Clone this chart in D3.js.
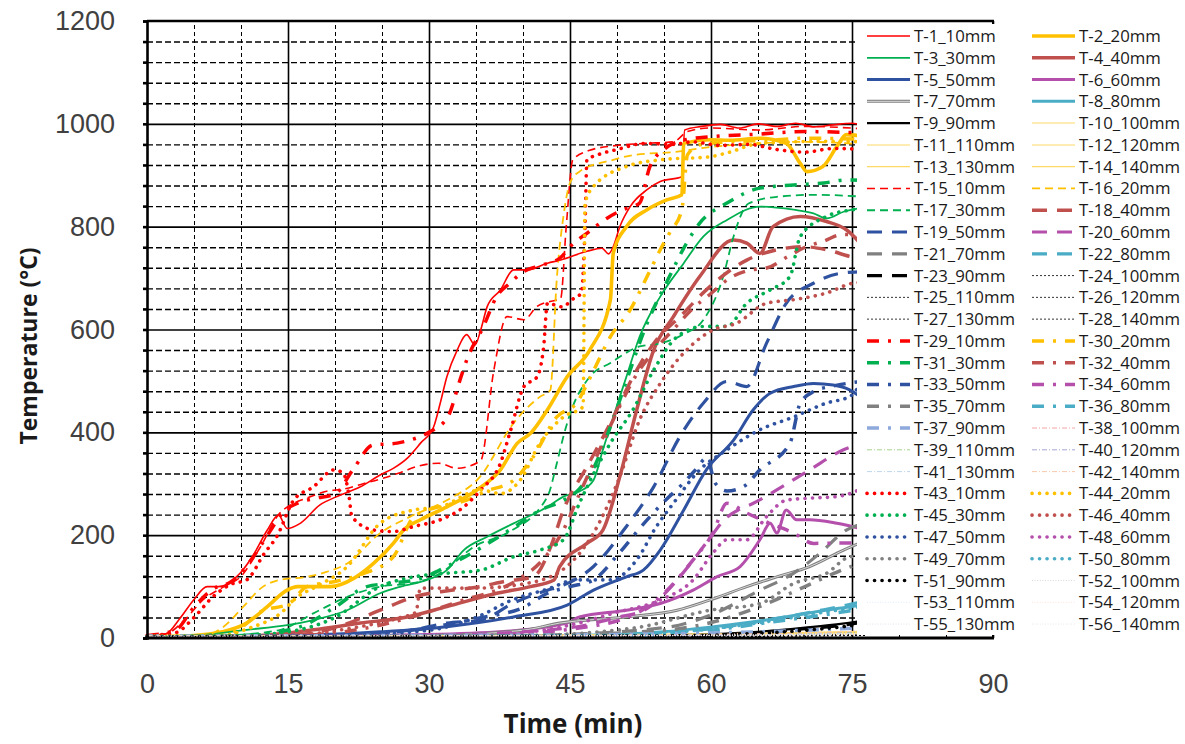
<!DOCTYPE html>
<html lang="en">
  <head>
    <meta charset="UTF-8" />
    <script src="https://d3js.org/d3.v7.min.js"></script>
    <title>Temperature - time</title>
    <style>
      body { margin: 0; background: #fff; font-family: "Open Sans", sans-serif; }
      .tick-label text { font-size: 27px; fill: #404040; }
      .title { font-weight: bold; fill: #1a1a1a; }
      .legend text { font-size: 16.8px; fill: #1a1a1a; }
    </style>
  </head>
  <body>
    <svg width="1185" height="744"></svg>
    <script>
      // ---- data: [minute, °C] ----
      const T1 = [[0,5],[2,8],[3.5,38],[5,75],[6.4,100],[7.6,100],[9.9,126],[11.3,161],[12.8,210],[14,239],[14.9,213],[16.3,223],[18.4,259],[20.2,275],[22.7,294],[24.8,317],[26.2,330],[27.7,350],[29.1,379],[30.5,411],[31.2,457],[31.9,508],[33,560],[34,590],[34.9,570],[35.5,599],[36.2,645],[37.6,677],[39,716],[40.4,716],[42.6,729],[44,735],[46.8,752],[48.4,758],[49.1,747],[49.6,761],[50.3,800],[51.4,839],[53.2,872],[54.6,888],[56.9,897],[57.2,988],[59,995],[61,999],[63,992],[65,1000],[67,995],[69,1001],[71,994],[73,998],[75,1001],[76.5,995]];
      const T2 = [[0,3],[5,5],[8,12],[10.6,29],[12.8,61],[14.9,93],[16,100],[19.5,100],[22,116],[24.1,145],[26.2,184],[27.3,210],[29.1,230],[31.9,255],[35.1,288],[37.6,327],[39.4,379],[40.8,398],[42.6,444],[44.7,508],[47.1,560],[49.3,658],[49.6,748],[51,800],[53.2,833],[55.3,852],[56.9,862],[57.1,962],[59.9,969],[62,968],[65.2,972],[68,962],[69.5,923],[70.2,907],[71.9,917],[73.4,956],[74.4,979],[76.5,975]];
      const T3 = [[0,3],[5,5],[10.6,16],[14.9,25],[17.7,35],[21.3,54],[24.8,87],[27,100],[29.8,113],[31.9,132],[33.7,171],[36.2,197],[39,223],[42.6,255],[44.3,275],[46,285],[47.5,307],[48.5,366],[49.6,430],[51,508],[52.4,586],[54.6,664],[57.1,729],[59.2,781],[61.7,813],[65.2,839],[68.8,833],[70.9,826],[72.3,816],[74.1,829],[76.5,838]];
      const T4 = [[0,2],[12,5],[17.7,16],[22.7,29],[27.7,41],[31.9,61],[37.2,87],[40.8,100],[43.3,113],[43.9,139],[46.8,184],[48.5,210],[50.3,314],[52.1,444],[53.9,560],[56,625],[58.8,703],[62.4,774],[63.8,768],[65.2,748],[66.6,800],[69.5,820],[72.3,810],[74.4,794],[76.5,755]];
      const T5 = [[0,2],[15,5],[24.8,12],[31.9,22],[39,41],[44.7,64],[47.5,93],[51,119],[52.8,132],[54.6,171],[57.1,249],[59.5,327],[62.4,385],[64.5,444],[66.3,476],[68.8,489],[70.9,495],[73,492],[74.8,482],[76.5,460]];
      const T6 = [[0,2],[25,5],[35.4,10],[44.7,29],[46,41],[51,54],[54.6,67],[58.1,93],[60.6,119],[63.1,139],[65.2,191],[66.3,223],[67,204],[68,249],[69.1,230],[70.5,230],[73.4,223],[76.5,210]];
      const T7 = [[0,2],[30,5],[40,15],[43.9,29],[51,41],[56.4,54],[59.9,74],[63.8,100],[67,119],[70.5,139],[74.1,171],[76.5,190]];
      const T8 = [[0,2],[45,5],[55,12],[60.3,22],[65.9,35],[71.2,51],[76.5,65]];
      const T9 = [[0,2],[55,5],[65,12],[70,20],[74,28],[76.5,35]];
      const T10 = [[0,3],[35,4],[60,7],[76.5,10]];
      const T11 = [[0,3],[35,4],[60,6],[76.5,9]];
      const T12 = [[0,3],[35,3],[60,5],[76.5,8]];
      const T13 = [[0,3],[35,5],[60,8],[76.5,13]];
      const T14 = [[0,3],[35,4],[60,7],[76.5,11]];
      const T15 = [[0,5],[2,8],[4,35],[6,75],[8,98],[10,120],[12,175],[14,240],[15.6,262],[17,272],[19,285],[21,290],[23,300],[25,310],[27,322],[29,335],[31,340],[33,330],[35.5,345],[36.9,521],[38.3,625],[40.1,619],[41.5,645],[43,655],[44,660],[44.6,800],[45.3,930],[47,948],[50,958],[53,962],[56,965],[57.5,985],[60,992],[65,988],[70,995],[76.5,990]];
      const T16 = [[0,3],[6,5],[8,20],[10.6,68],[12,95],[14.1,113],[17,119],[19,128],[21.3,145],[24.8,204],[28,236],[31.9,268],[35.4,313],[39,418],[41.8,469],[42.9,482],[43.6,700],[44.3,820],[45,885],[46,907],[49.6,930],[52,940],[56,945],[60,955],[65,962],[70,965],[76.5,960]];
      const T17 = [[0,3],[8,5],[14,15],[17.7,48],[21.3,80],[24.8,100],[28.4,107],[31.2,126],[35,180],[38.3,204],[42.6,275],[43.6,340],[44.3,392],[44.9,430],[47.1,508],[49.3,535],[52.4,567],[54.6,573],[57,590],[59.2,619],[61.3,703],[62.4,781],[64,845],[67,858],[71,862],[76.5,858]];
      const T18 = [[0,2],[15,5],[20,20],[24.8,54],[28.4,80],[32,92],[35.5,100],[38,110],[41.1,119],[43,180],[44.3,249],[46.8,333],[49.3,418],[51.7,508],[54.2,580],[56.7,625],[59.5,677],[63.8,735],[67,755],[69.8,761],[72.3,755],[74.8,742],[76.5,735]];
      const T19 = [[0,2],[20,5],[28,15],[31.9,29],[35.5,35],[39,68],[42.6,93],[43.9,100],[47.5,139],[51,217],[53.9,294],[56.7,392],[59.2,457],[61.7,499],[63.8,489],[65.9,573],[68,651],[70.9,690],[73.7,709],[76.5,713]];
      const T20 = [[0,2],[30,5],[45,20],[50,40],[53,55],[55,85],[57.4,135],[59.5,185],[61.7,235],[63,250],[64.5,262],[67,288],[70.5,327],[74.1,366],[76.5,380]];
      const T21 = [[0,2],[40,5],[55,20],[60,45],[65.2,93],[68.8,126],[71.6,165],[74.4,210],[76.5,224]];
      const T22 = [[0,2],[50,5],[60,18],[66,35],[72,55],[76.5,72]];
      const T23 = [[0,2],[55,4],[65,10],[70,18],[74,25],[76.5,32]];
      const T24 = [[0,2],[40,3],[65,5],[76.5,7]];
      const T25 = [[0,2],[40,3],[65,4],[76.5,6]];
      const T26 = [[0,2],[40,2],[65,4],[76.5,5]];
      const T27 = [[0,2],[40,3],[65,4],[76.5,6]];
      const T28 = [[0,2],[40,2],[65,3],[76.5,5]];
      const T29 = [[0,5],[3,15],[5,60],[7,95],[9,110],[11,150],[13,205],[14.5,245],[16,262],[18,272],[20,280],[22,330],[24,375],[26.6,379],[28,385],[30,400],[32,430],[33.3,502],[34,540],[35.8,606],[37.2,664],[38.6,690],[40,712],[42,725],[44,740],[45,761],[47,790],[48.9,816],[50.5,832],[52.4,846],[53.5,917],[55,950],[57,968],[60,975],[65,980],[70,985],[76.5,982]];
      const T30 = [[0,3],[8,5],[10,20],[12,50],[15.2,68],[17,100],[20,110],[23,125],[26.2,158],[28.4,236],[31,255],[34,268],[36,285],[39,307],[41,350],[43.6,430],[45.7,457],[47.5,520],[49.3,586],[51.4,638],[53.2,703],[54.6,755],[55.6,788],[56.9,833],[57.5,940],[59,960],[62,965],[66,968],[70,972],[76.5,970]];
      const T31 = [[0,3],[10,5],[16,20],[20,60],[23.4,100],[26.2,107],[29,115],[31.9,139],[35,170],[39,215],[42,250],[44,265],[46,290],[47.5,330],[49.3,411],[51,500],[53.2,612],[55.5,700],[57.4,768],[58.8,807],[61.7,846],[65.2,875],[68.8,881],[72,885],[74.4,891],[76.5,890]];
      const T32 = [[0,2],[15,4],[22,15],[28,40],[33,70],[39.4,113],[42,150],[44.3,210],[46,280],[48,360],[50,440],[52,510],[54,560],[56,600],[58,640],[60,670],[62,700],[64,715],[66,720],[68,740],[70,760],[72,772],[74,785],[76.5,780]];
      const T33 = [[0,2],[20,5],[30,20],[35.4,39],[40.1,60],[42.6,87],[45,100],[47.5,113],[50,160],[52.5,215],[55,265],[57,300],[58.5,330],[59.5,350],[60.5,300],[61.7,286],[63.5,295],[65.2,327],[68.4,379],[69.5,457],[71,480],[73,490],[76.5,500]];
      const T34 = [[0,2],[35,5],[48,25],[54.6,80],[58.1,152],[60.2,204],[61.7,262],[63.8,243],[66,225],[68.8,204],[70.9,184],[74.4,185],[76.5,180]];
      const T35 = [[0,2],[40,5],[55,15],[60,30],[65,60],[70,100],[73,125],[76.5,150]];
      const T36 = [[0,2],[50,4],[60,15],[66,30],[72,45],[76.5,58]];
      const T37 = [[0,4],[30,5],[50,7],[65,12],[76.5,20]];
      const T38 = [[0,4],[40,5],[65,8],[76.5,12]];
      const T39 = [[0,4],[40,5],[65,7],[76.5,11]];
      const T40 = [[0,4],[40,4],[65,6],[76.5,10]];
      const T41 = [[0,4],[40,5],[65,7],[76.5,9]];
      const T42 = [[0,4],[40,5],[65,8],[76.5,14]];
      const T43 = [[0,5],[3,10],[5,40],[7,80],[9,105],[10.6,113],[12.5,165],[13.8,197],[15.6,268],[17.7,294],[19.9,327],[20.9,320],[21.5,275],[21.8,236],[24.1,210],[26.2,207],[28.4,217],[31.2,230],[33.7,255],[35.5,288],[37.6,340],[38.7,405],[40.1,489],[41.5,508],[42.2,567],[42.6,651],[44.2,644],[45.2,658],[46.2,671],[46.6,800],[46.8,930],[48,940],[50,950],[53,962],[56,960],[58,965],[61,958],[64,960],[67,950],[70,945],[73,952],[76.5,950]];
      const T44 = [[0,3],[8,5],[11,20],[14.2,48],[16,80],[18,100],[21.3,139],[24.8,223],[28.4,249],[31.2,255],[35.5,288],[37.6,281],[39.7,307],[41.8,379],[44.3,430],[46.4,450],[46.6,846],[47.5,878],[51,917],[54.6,930],[59.9,936],[62,945],[65.2,962],[72.3,966],[76.5,965]];
      const T45 = [[0,3],[10,5],[15,12],[20,40],[24.8,100],[28.4,119],[31.9,126],[35.5,132],[39,158],[41.8,171],[44.3,191],[46,262],[49.3,379],[51.7,444],[53.9,521],[56.4,586],[59.2,606],[61.7,606],[63.8,651],[66.3,677],[68.4,703],[69.5,781],[72.3,820],[75.1,833],[76.5,836]];
      const T46 = [[0,2],[15,5],[22,20],[27,40],[28.6,50],[29.1,97],[35,97],[40,105],[44,130],[47.5,204],[50.3,314],[52.4,424],[54.6,495],[57.4,560],[60.2,599],[62.7,612],[65.9,651],[68.8,658],[72.3,671],[75.1,690],[76.5,692]];
      const T47 = [[0,2],[20,5],[30,15],[35,40],[39,75],[42.6,95],[45.7,113],[49.3,113],[52.1,152],[54.2,217],[56,262],[58.8,327],[61.7,366],[65.2,405],[68.8,430],[72.3,457],[74.8,470],[76.5,515]];
      const T48 = [[0,2],[35,5],[45,25],[50,50],[54.6,74],[58.1,113],[60.2,165],[61.7,191],[63.8,191],[65.9,236],[68,268],[70.5,272],[73.4,275],[76.5,294]];
      const T49 = [[0,2],[40,5],[52,20],[59.9,54],[65.2,67],[68.8,106],[72.3,126],[74.8,158],[76.5,160]];
      const T50 = [[0,2],[50,5],[60,18],[66,32],[72,50],[76.5,62]];
      const T51 = [[0,2],[55,4],[65,9],[70,15],[74,22],[76.5,28]];
      const T52 = [[0,3],[40,4],[65,6],[76.5,8]];
      const T53 = [[0,3],[40,4],[65,5],[76.5,7]];
      const T54 = [[0,3],[40,4],[65,6],[76.5,9]];
      const T55 = [[0,3],[40,3],[65,5],[76.5,7]];
      const T56 = [[0,3],[40,4],[65,6],[76.5,8]];

      const seriesNames = [
        "T-1_10mm","T-2_20mm","T-3_30mm","T-4_40mm","T-5_50mm","T-6_60mm","T-7_70mm",
        "T-8_80mm","T-9_90mm","T-10_100mm","T-11_110mm","T-12_120mm","T-13_130mm","T-14_140mm",
        "T-15_10mm","T-16_20mm","T-17_30mm","T-18_40mm","T-19_50mm","T-20_60mm","T-21_70mm",
        "T-22_80mm","T-23_90mm","T-24_100mm","T-25_110mm","T-26_120mm","T-27_130mm","T-28_140mm",
        "T-29_10mm","T-30_20mm","T-31_30mm","T-32_40mm","T-33_50mm","T-34_60mm","T-35_70mm",
        "T-36_80mm","T-37_90mm","T-38_100mm","T-39_110mm","T-40_120mm","T-41_130mm","T-42_140mm",
        "T-43_10mm","T-44_20mm","T-45_30mm","T-46_40mm","T-47_50mm","T-48_60mm","T-49_70mm",
        "T-50_80mm","T-51_90mm","T-52_100mm","T-53_110mm","T-54_120mm","T-55_130mm","T-56_140mm"
      ];
      const seriesData = [T1,T2,T3,T4,T5,T6,T7,T8,T9,T10,T11,T12,T13,T14,
        T15,T16,T17,T18,T19,T20,T21,T22,T23,T24,T25,T26,T27,T28,
        T29,T30,T31,T32,T33,T34,T35,T36,T37,T38,T39,T40,T41,T42,
        T43,T44,T45,T46,T47,T48,T49,T50,T51,T52,T53,T54,T55,T56];

      const xTicks = [0, 15, 30, 45, 60, 75, 90];
      const yTicks = [0, 200, 400, 600, 800, 1000, 1200];

      // ---- line styles ----
      const RED = "#FF0000", ORG = "#FFC000", GRN = "#00B050", BRN = "#C0504D",
            BLU = "#2F52A0", MAG = "#B44FAC", GRY = "#808080", LBL = "#4BACC6", BLK = "#000000";
      const THIN_DASH = "8,5", LONG_DASH = "15,10", DASH_DOT = "12,9,3,9", DOT = "0.1,7.4",
            FINE_DASH = "2,2", FINE_DD = "5,2,1,2", FINE_DOT = "1,1.6";
      function st(color, width, dash, cap, inner) {
        return { color, width, dash: dash || null, cap: cap || "butt", inner: inner || null };
      }
      const lineStyles = [
        st(RED,1.6), st(ORG,3.6), st(GRN,1.8), st(BRN,3.5), st(BLU,3), st(MAG,3),
        st(GRY,3,null,null,"#d9d9d9"), st(LBL,3), st(BLK,2.2),
        st("#FFE699",1.5), st("#FFE699",1.5), st("#FFE699",1.5), st("#FFD966",1.2), st("#FFD966",1.2),
        st(RED,1.6,THIN_DASH), st(ORG,1.8,THIN_DASH), st(GRN,1.8,THIN_DASH),
        st(BRN,3.5,LONG_DASH), st(BLU,3.2,LONG_DASH), st(MAG,3.2,LONG_DASH), st(GRY,3.2,LONG_DASH),
        st(LBL,3.2,LONG_DASH), st(BLK,3.2,LONG_DASH),
        st(BLK,0.8,FINE_DASH), st(BLK,0.8,FINE_DASH), st(BLK,0.8,FINE_DASH), st(BLK,0.8,FINE_DASH), st(BLK,0.8,FINE_DASH),
        st(RED,3.5,DASH_DOT), st(ORG,3.5,DASH_DOT), st(GRN,3.5,DASH_DOT), st(BRN,3.5,DASH_DOT),
        st(BLU,3.5,DASH_DOT), st(MAG,3.5,DASH_DOT), st(GRY,3.5,DASH_DOT), st(LBL,3.5,DASH_DOT),
        st("#8EA9DB",3.5,DASH_DOT),
        st("#F4A6A6",1,FINE_DD), st("#A9D18E",1,FINE_DD), st("#A5A5D6",1,FINE_DD), st("#BDD7EE",1,FINE_DD), st("#F8CBAD",1,FINE_DD),
        st(RED,3.6,DOT,"round"), st(ORG,3.6,DOT,"round"), st(GRN,3.6,DOT,"round"), st(BRN,3.6,DOT,"round"),
        st(BLU,3.6,DOT,"round"), st(MAG,3.6,DOT,"round"), st(GRY,3.6,DOT,"round"), st(LBL,3.6,DOT,"round"),
        st(BLK,3.6,DOT,"round"),
        st("#D9D9D9",1,FINE_DOT), st("#DDEBF7",1,FINE_DOT), st("#FCE4D6",1,FINE_DOT), st("#E4DFEC",1,FINE_DOT), st("#EDE2EE",1,FINE_DOT)
      ];

      // ---- layout ----
      const plotLeft = 147, plotRight = 993, plotTop = 21, plotBottom = 638;
      const svg = d3.select("svg");
      const x = d3.scaleLinear().domain([0, 90]).range([plotLeft, plotRight]);
      const y = d3.scaleLinear().domain([0, 1200]).range([plotBottom, plotTop]);

      // minor gridlines (dashed)
      const minorY = d3.range(40, 1200, 40).filter(v => v % 200 !== 0);
      const minorX = d3.range(5, 90, 5).filter(v => v % 15 !== 0);
      svg.append("g")
        .attr("transform", `translate(${plotLeft},0)`)
        .call(d3.axisLeft(y).tickValues(minorY).tickSize(-(plotRight - plotLeft)).tickFormat(""))
        .call(g => g.select(".domain").remove())
        .selectAll("line").attr("stroke", "#000").attr("stroke-width", 1.4).attr("stroke-dasharray", "6,3");
      svg.append("g")
        .attr("transform", `translate(0,${plotBottom})`)
        .call(d3.axisBottom(x).tickValues(minorX).tickSize(-(plotBottom - plotTop)).tickFormat(""))
        .call(g => g.select(".domain").remove())
        .selectAll("line").attr("stroke", "#000").attr("stroke-width", 1).attr("stroke-dasharray", "4,3");

      // major gridlines (solid)
      svg.append("g")
        .attr("transform", `translate(${plotLeft},0)`)
        .call(d3.axisLeft(y).tickValues(yTicks.filter(v => v > 0 && v < 1200)).tickSize(-(plotRight - plotLeft)).tickFormat(""))
        .call(g => g.select(".domain").remove())
        .selectAll("line").attr("stroke", "#000").attr("stroke-width", 1.6);
      svg.append("g")
        .attr("transform", `translate(0,${plotBottom})`)
        .call(d3.axisBottom(x).tickValues(xTicks.filter(v => v > 0)).tickSize(-(plotBottom - plotTop)).tickFormat(""))
        .call(g => g.select(".domain").remove())
        .selectAll("line").attr("stroke", "#000").attr("stroke-width", 1.6);

      // series
      const line = d3.line().x(d => x(d[0])).y(d => y(d[1])).curve(d3.curveMonotoneX);
      const plot = svg.append("g").attr("class", "series");
      seriesData.forEach((data, i) => {
        const s = lineStyles[i];
        plot.append("path")
          .datum(data)
          .attr("d", line)
          .attr("fill", "none")
          .attr("stroke", s.color)
          .attr("stroke-width", s.width)
          .attr("stroke-dasharray", s.dash)
          .attr("stroke-linecap", s.cap)
          .attr("stroke-linejoin", "round");
        if (s.inner) {
          plot.append("path").datum(data).attr("d", line).attr("fill", "none")
            .attr("stroke", s.inner).attr("stroke-width", 1);
        }
      });

      // right border (mostly hidden by legend)
      svg.append("line").attr("x1", plotRight).attr("x2", plotRight).attr("y1", plotTop).attr("y2", plotBottom)
        .attr("stroke", "#000").attr("stroke-width", 2);

      // legend
      const legend = svg.append("g").attr("class", "legend");
      legend.append("rect").attr("x", 857).attr("y", 24).attr("width", 330).attr("height", 611).attr("fill", "#fff");
      const colX = [867, 1032], rowY0 = 36, rowStep = 21.78, swatchW = 43;
      seriesNames.forEach((name, i) => {
        const s = lineStyles[i];
        const lx = colX[i % 2], ly = rowY0 + Math.floor(i / 2) * rowStep;
        legend.append("line")
          .attr("x1", lx).attr("x2", lx + swatchW).attr("y1", ly).attr("y2", ly)
          .attr("stroke", s.color).attr("stroke-width", s.width)
          .attr("stroke-dasharray", s.dash).attr("stroke-linecap", s.cap);
        if (s.inner) {
          legend.append("line").attr("x1", lx).attr("x2", lx + swatchW).attr("y1", ly).attr("y2", ly)
            .attr("stroke", s.inner).attr("stroke-width", 1);
        }
        legend.append("text").attr("x", lx + swatchW + 4).attr("y", ly + 6).text(name);
      });

      // axes frame
      svg.append("g")
        .attr("transform", `translate(${plotLeft},0)`)
        .call(d3.axisLeft(y).tickValues(d3.range(0, 1201, 40)).tickSize(4).tickFormat(""))
        .call(g => g.selectAll("path, line").attr("stroke", "#000").attr("stroke-width", 2.6));
      svg.append("line").attr("x1", plotLeft).attr("x2", plotRight + 1).attr("y1", plotTop).attr("y2", plotTop)
        .attr("stroke", "#000").attr("stroke-width", 2.6);
      svg.append("line").attr("x1", plotLeft - 1).attr("x2", plotRight + 1).attr("y1", plotBottom).attr("y2", plotBottom)
        .attr("stroke", "#000").attr("stroke-width", 2.8);

      // tick labels
      svg.append("g").attr("class", "tick-label")
        .attr("transform", `translate(${plotLeft},0)`)
        .call(d3.axisLeft(y).tickValues(yTicks).tickSize(0).tickPadding(32).tickFormat(d3.format("d")))
        .call(g => g.select(".domain").remove())
        .selectAll("text").attr("font-family", null).attr("font-size", null);
      svg.append("g").attr("class", "tick-label")
        .attr("transform", `translate(0,${plotBottom})`)
        .call(d3.axisBottom(x).tickValues(xTicks).tickSize(0).tickPadding(36).tickFormat(d3.format("d")))
        .call(g => g.select(".domain").remove())
        .selectAll("text").attr("font-family", null).attr("font-size", null);

      // titles
      svg.append("text").attr("class", "title")
        .attr("x", 573).attr("y", 733).attr("text-anchor", "middle")
        .style("font-size", "26px").text("Time (min)");
      svg.append("text").attr("class", "title")
        .attr("transform", "translate(37,346) rotate(-90)").attr("text-anchor", "middle")
        .style("font-size", "23px").text("Temperature (°C)");
    </script>
  </body>
</html>
